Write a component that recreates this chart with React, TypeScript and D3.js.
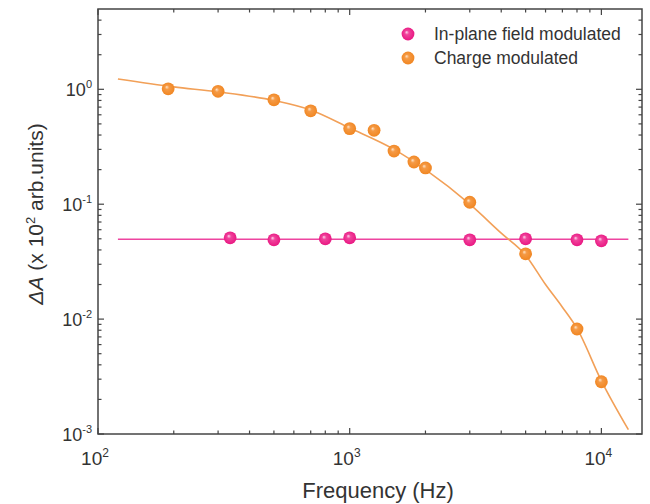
import React from "react";
import * as d3 from "d3";

// measured points
const freqField = [335, 500, 800, 1000, 3000, 5000, 8000, 10000];
const ampField = [0.051, 0.049, 0.05, 0.051, 0.049, 0.05, 0.049, 0.048];
const freqCharge = [190, 300, 500, 700, 1000, 1250, 1500, 1800, 2000, 3000, 5000, 8000, 10000];
const ampCharge = [1.01, 0.96, 0.81, 0.65, 0.455, 0.44, 0.29, 0.233, 0.207, 0.104, 0.037, 0.0082, 0.00285];

// fitted lines
const fitFieldFreq = [120, 12800];
const fitFieldAmp = [0.0496, 0.0496];
const fitChargeFreq = [120, 200, 300, 500, 700, 1000, 1500, 2000, 3000, 4000, 5000, 6000, 7000, 8000, 10000, 12800];
const fitChargeAmp = [1.23, 1.05, 0.95, 0.8, 0.66, 0.46, 0.3, 0.2, 0.1, 0.056, 0.036, 0.02, 0.0127, 0.0083, 0.0029, 0.00109];

const xMajor = [100, 1000, 10000];
const yMajor = [0.001, 0.01, 0.1, 1];
const xExp = ["2", "3", "4"];
const yExp = ["-3", "-2", "-1", "0"];

const legendLabels = ["In-plane field modulated", "Charge modulated"];

const W = 650;
const H = 504;
const m = { left: 98, top: 9, right: 8, bottom: 70 };

const pink = "#e8137f";
const orange = "#f0841e";

export default function App() {
  const x = d3.scaleLog().domain([100, 14500]).range([m.left, W - m.right]);
  const y = d3.scaleLog().domain([0.001, 5]).range([H - m.bottom, m.top]);
  const x0 = m.left, x1 = W - m.right, y0 = H - m.bottom, y1 = m.top;

  const line = d3
    .line<[number, number]>()
    .x((d) => x(d[0]))
    .y((d) => y(d[1]))
    .curve(d3.curveMonotoneX);

  const xMinor: number[] = [];
  for (const base of [100, 1000, 10000])
    for (let k = 2; k <= 9; k++) if (base * k <= 14500) xMinor.push(base * k);
  const yMinor: number[] = [];
  for (const base of [0.001, 0.01, 0.1, 1])
    for (let k = 2; k <= 9; k++) if (base * k < 5) yMinor.push(base * k);

  const ax = "#444";
  const txt = "#333";
  const font = "Liberation Sans, Arial, sans-serif";

  const dot = (cx: number, cy: number, id: string, key: string) => (
    <circle key={key} cx={cx} cy={cy} r={6.4} fill={`url(#${id})`} />
  );

  return (
    <svg width={W} height={H} style={{ position: "absolute", left: 0, top: 0, background: "#fff" }} fontFamily={font}>
      <defs>
        <radialGradient id="gp" cx="50%" cy="50%" r="55%" fx="38%" fy="35%">
          <stop offset="0%" stopColor="#ffd6ec" />
          <stop offset="30%" stopColor="#f0449c" />
          <stop offset="100%" stopColor={pink} />
        </radialGradient>
        <radialGradient id="go" cx="50%" cy="50%" r="55%" fx="38%" fy="35%">
          <stop offset="0%" stopColor="#ffe4c8" />
          <stop offset="30%" stopColor="#f59a45" />
          <stop offset="100%" stopColor={orange} />
        </radialGradient>
      </defs>

      {/* fits */}
      <path
        d={line(fitFieldFreq.map((f, i) => [f, fitFieldAmp[i]]) as [number, number][]) || ""}
        fill="none"
        stroke="#ee44a0"
        strokeWidth={1.6}
      />
      <path
        d={line(fitChargeFreq.map((f, i) => [f, fitChargeAmp[i]]) as [number, number][]) || ""}
        fill="none"
        stroke="#f2a058"
        strokeWidth={1.6}
      />

      {freqField.map((f, i) => dot(x(f), y(ampField[i]), "gp", "p" + i))}
      {freqCharge.map((f, i) => dot(x(f), y(ampCharge[i]), "go", "c" + i))}

      {/* frame */}
      <rect x={x0} y={y1} width={x1 - x0} height={y0 - y1} fill="none" stroke={ax} strokeWidth={1.5} />

      {/* x ticks */}
      {xMajor.map((v) => (
        <g key={"xm" + v}>
          <line x1={x(v)} x2={x(v)} y1={y0} y2={y0 - 6} stroke={ax} strokeWidth={1.2} />
          <line x1={x(v)} x2={x(v)} y1={y1} y2={y1 + 6} stroke={ax} strokeWidth={1.2} />
        </g>
      ))}
      {xMinor.map((v) => (
        <g key={"xn" + v}>
          <line x1={x(v)} x2={x(v)} y1={y0} y2={y0 - 3.5} stroke={ax} strokeWidth={1.2} />
          <line x1={x(v)} x2={x(v)} y1={y1} y2={y1 + 3.5} stroke={ax} strokeWidth={1.2} />
        </g>
      ))}
      {/* y ticks */}
      {yMajor.map((v) => (
        <g key={"ym" + v}>
          <line x1={x0} x2={x0 + 6} y1={y(v)} y2={y(v)} stroke={ax} strokeWidth={1.2} />
          <line x1={x1} x2={x1 - 6} y1={y(v)} y2={y(v)} stroke={ax} strokeWidth={1.2} />
        </g>
      ))}
      {yMinor.map((v) => (
        <g key={"yn" + v}>
          <line x1={x0} x2={x0 + 3.5} y1={y(v)} y2={y(v)} stroke={ax} strokeWidth={1.2} />
          <line x1={x1} x2={x1 - 3.5} y1={y(v)} y2={y(v)} stroke={ax} strokeWidth={1.2} />
        </g>
      ))}

      {/* tick labels */}
      {xMajor.map((v, i) => (
        <text key={"xl" + v} x={x(v) - 3} y={y0 + 31} textAnchor="middle" fontSize={19} fill={txt}>
          10
          <tspan fontSize={12} dy={-8}>
            {xExp[i]}
          </tspan>
        </text>
      ))}
      {yMajor.map((v, i) => (
        <text key={"yl" + v} x={x0 - 6} y={y(v) + 7} textAnchor="end" fontSize={18} fill={txt}>
          10
          <tspan fontSize={11} dy={-8}>
            {yExp[i]}
          </tspan>
        </text>
      ))}

      {/* axis titles */}
      <text x={378} y={H - 6} textAnchor="middle" fontSize={22} fill={txt}>
        Frequency (Hz)
      </text>
      <text
        transform={`translate(43,214) rotate(-90)`}
        textAnchor="middle"
        fontSize={21}
        fill={txt}
      >
        <tspan fontStyle="italic">ΔA</tspan> (x 10
        <tspan fontSize={13} dy={-8}>2</tspan>
        <tspan dy={8}> arb.units)</tspan>
      </text>

      {/* legend */}
      {legendLabels.map((l, i) => (
        <g key={l}>
          {dot(408, 34 + i * 24, i === 0 ? "gp" : "go", "l" + i)}
          <text x={434} y={40 + i * 24} fontSize={17.5} fill={txt}>
            {l}
          </text>
        </g>
      ))}
    </svg>
  );
}
